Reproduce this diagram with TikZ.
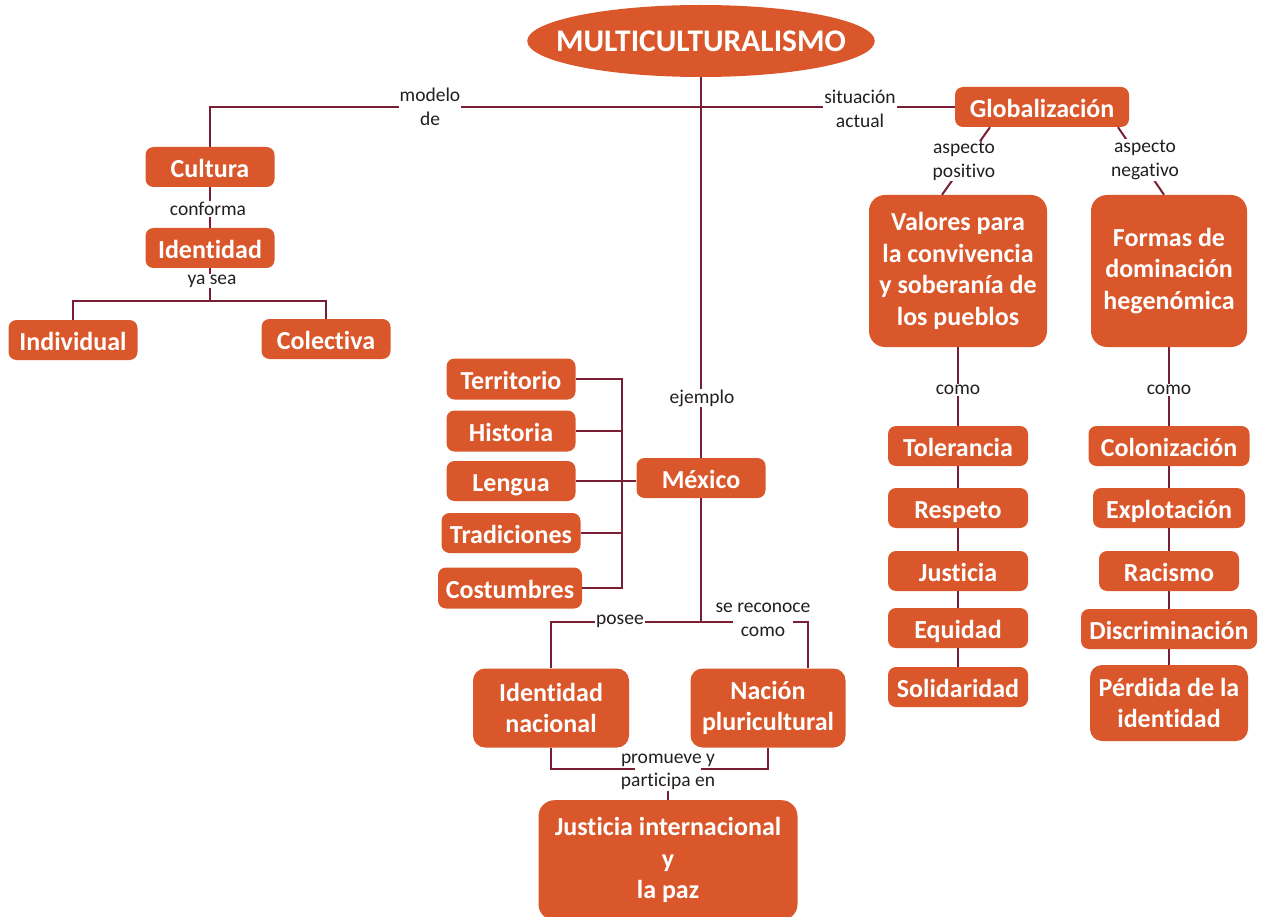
\documentclass[tikz,border=0pt]{standalone}
\usepackage{fontspec}
\setmainfont{Carlito}[Ligatures=NoCommon]
\usetikzlibrary{shapes.geometric}
\definecolor{boxor}{HTML}{D9572A}
\definecolor{linec}{HTML}{7A1F33}
\definecolor{lblc}{HTML}{231F20}
\begin{document}
\begin{tikzpicture}[x=1pt,y=-1pt,
 box/.style={fill=boxor, text=white, rounded corners=8pt, font=\bfseries\fontsize{26}{31.5}\selectfont, align=center, inner sep=0pt, minimum height=40pt},
 sbox/.style={box, text height=21pt, text depth=0pt},
 lbl/.style={fill=white, text=lblc, font=\fontsize{19.5}{23.5}\selectfont, align=center, inner sep=1pt},
 conn/.style={draw=linec, line width=2pt}]
\useasboundingbox (0,0) rectangle (1263,917);
% nodes
\node[box, ellipse, minimum width=347pt, minimum height=72pt, inner xsep=-22pt, inner ysep=0pt, font=\bfseries\fontsize{31.5}{36}\selectfont] (multi) at (701,41) {MULTICULTURALISMO};
\node[sbox, minimum width=129pt] (cultura) at (210,167) {Cultura};
\node[sbox, minimum width=129pt] (identidad) at (210,248) {Identidad};
\node[sbox, minimum width=129pt] (individual) at (73,340) {Individual};
\node[sbox, minimum width=129pt] (colectiva) at (326,339) {Colectiva};
\node[sbox, minimum width=129pt, minimum height=41pt] (territorio) at (511,379) {Territorio};
\node[sbox, minimum width=129pt, minimum height=41pt] (historia) at (511,431) {Historia};
\node[sbox, minimum width=129pt] (lengua) at (511,481) {Lengua};
\node[sbox, minimum width=139pt] (tradiciones) at (511,533) {Tradiciones};
\node[sbox, minimum width=144pt, minimum height=41pt] (costumbres) at (510,588) {Costumbres};
\node[sbox, minimum width=129pt] (mexico) at (701,478) {México};
\node[box, minimum width=156pt, minimum height=79pt, rounded corners=12pt] (idnac) at (551,708) {Identidad\\nacional};
\node[box, minimum width=155pt, minimum height=79pt, rounded corners=12pt] (nacion) at (768,708) {Nación\\pluricultural};
\node[box, minimum width=259pt, minimum height=120pt, rounded corners=16pt, anchor=north] (justicia) at (668,800) {Justicia internacional\\y\\la paz};
\node[sbox, minimum width=174pt] (glob) at (1042,107) {Globalización};
\node[box, minimum width=178pt, minimum height=152pt, rounded corners=16pt] (valores) at (958,271) {Valores para\\la convivencia\\y soberanía de\\los pueblos};
\node[box, minimum width=156pt, minimum height=152pt, rounded corners=16pt] (formas) at (1169,271) {Formas de\\dominación\\hegenómica};
\node[sbox, minimum width=140pt] (tol) at (958,446) {Tolerancia};
\node[sbox, minimum width=140pt] (resp) at (958,508) {Respeto};
\node[sbox, minimum width=140pt] (justi) at (958,571) {Justicia};
\node[sbox, minimum width=140pt] (equi) at (958,628) {Equidad};
\node[sbox, minimum width=140pt] (soli) at (958,687) {Solidaridad};
\node[sbox, minimum width=161pt] (colon) at (1169,446) {Colonización};
\node[sbox, minimum width=152pt] (explo) at (1169,508) {Explotación};
\node[sbox, minimum width=140pt] (racis) at (1169,571) {Racismo};
\node[sbox, minimum width=176pt] (discr) at (1169,629) {Discriminación};
\node[box, minimum width=158pt, minimum height=76pt, rounded corners=12pt] (perd) at (1169,703) {Pérdida de la\\identidad};
% connectors
\coordinate (jid) at (210,301);
\coordinate (bt) at (622,379);
\coordinate (jm) at (701,622);
\coordinate (jb) at (668,769);
\draw[conn] (multi.south) -- (mexico.north);
\draw[conn] (cultura.north) |- (glob.west);
\draw[conn] (cultura.south) -- (identidad.north);
\draw[conn] (identidad.south) -- (jid) -| (individual.north);
\draw[conn] (jid) -| (colectiva.north);
\draw[conn] (territorio.east) -- (bt) |- (costumbres.east);
\draw[conn] (historia.east) -- (historia.east -| bt);
\draw[conn] (lengua.east) -- (lengua.east -| mexico.west);
\draw[conn] (tradiciones.east) -- (tradiciones.east -| bt);
\draw[conn] (mexico.south) -- (jm) -| (idnac.north);
\draw[conn] (jm) -| ([xshift=40pt]nacion.north);
\draw[conn] (idnac.south) |- (jb) -| (nacion.south);
\draw[conn] (jb) -- (justicia.north);
\draw[conn] ([xshift=-52pt]glob.south) -- ([xshift=-16pt]valores.north);
\draw[conn] ([xshift=76pt]glob.south) -- ([xshift=-5pt]formas.north);
\draw[conn] (valores.south) -- (tol.north) (tol.south) -- (resp.north) (resp.south) -- (justi.north) (justi.south) -- (equi.north) (equi.south) -- (soli.north);
\draw[conn] (formas.south) -- (colon.north) (colon.south) -- (explo.north) (explo.south) -- (racis.north) (racis.south) -- (discr.north) (discr.south) -- (perd.north);
% labels
\node[lbl] (l1) at (430,107) {modelo\\de};
\node[lbl] (l2) at (860,109) {situación\\actual};
\node[lbl] (l3) at (208,209) {conforma};
\node[lbl] (l4) at (212,281) {ya sea};
\node[lbl] (l5) at (702,398) {ejemplo};
\node[lbl] (l6) at (620,621) {posee};
\node[lbl, inner xsep=-17pt] (l7) at (763,620) {se reconoce\\como};
\node[lbl, inner xsep=-14pt] (l8) at (668,772) {promueve y\\participa en};
\node[lbl] (l9) at (964,161) {aspecto\\positivo};
\node[lbl] (l10) at (1145,160) {aspecto\\negativo};
\node[lbl] (l11) at (958,390) {como};
\node[lbl] (l12) at (1169,390) {como};
\end{tikzpicture}
\end{document}
